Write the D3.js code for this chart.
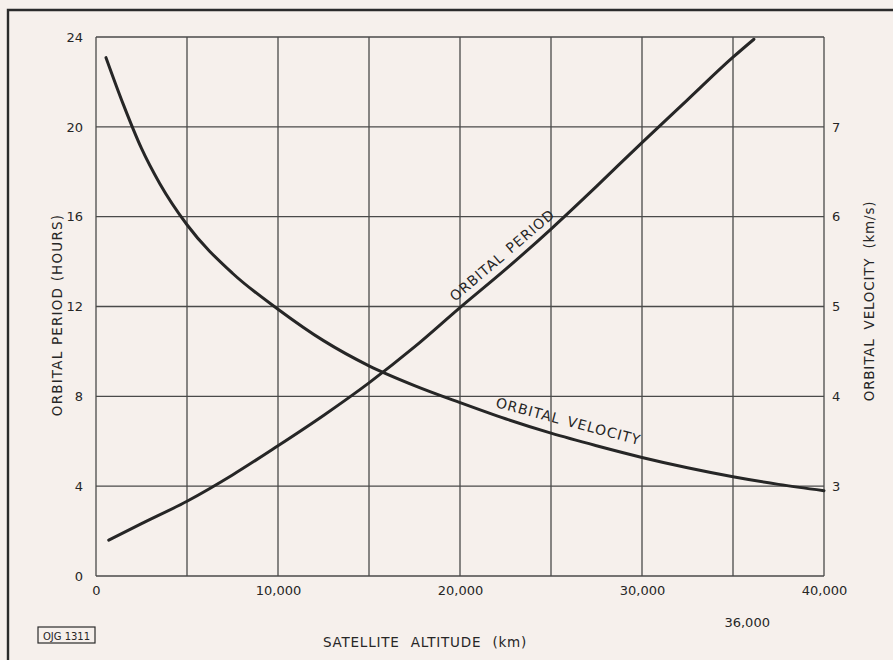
<!DOCTYPE html>
<html>
<head>
<meta charset="utf-8">
<script src="https://cdn.jsdelivr.net/npm/d3@7"></script>
<style>
  html, body { margin: 0; padding: 0; background: #f6f0ec; }
  svg { display: block; }
  text { font-family: "DejaVu Sans", "Liberation Sans", sans-serif; fill: #262626; }
</style>
</head>
<body>
<svg id="chart" width="893" height="660"></svg>
<script>
// Satellite altitude (km) vs orbital period (hours)
const periodAltitude = [700, 2500, 5000, 7500, 10000, 12500, 15000, 17500, 20000, 22500, 25000, 27500, 30000, 32500, 35000, 36150];
const periodHours    = [1.6, 2.33, 3.33, 4.5, 5.8, 7.15, 8.6, 10.2, 11.95, 13.65, 15.45, 17.35, 19.3, 21.2, 23.1, 23.9];

// Satellite altitude (km) vs orbital velocity (km/s)
const velocityAltitude = [550, 1500, 2500, 3500, 5000, 7500, 10000, 12500, 15000, 17500, 20000, 22500, 25000, 27500, 30000, 32500, 35000, 37500, 40000];
const velocityKms      = [7.77, 7.25, 6.76, 6.37, 5.91, 5.37, 4.97, 4.62, 4.34, 4.12, 3.93, 3.75, 3.59, 3.45, 3.32, 3.205, 3.105, 3.02, 2.95];

// Axis ticks
const altitudeTicks = [0, 5000, 10000, 15000, 20000, 25000, 30000, 35000, 40000];
const altitudeTickLabels = ["0", "", "10,000", "", "20,000", "", "30,000", "", "40,000"];
const periodTicks = [0, 4, 8, 12, 16, 20, 24];
const velocityTicks = [3, 4, 5, 6, 7];

const svg = d3.select("#chart");
const ink = "#2b2b2b";
const font = "DejaVu Sans, sans-serif";

const x = d3.scaleLinear().domain([0, 40000]).range([96, 824]);
const yP = d3.scaleLinear().domain([0, 24]).range([576, 37]);
const yV = d3.scaleLinear().domain([2, 8]).range([576, 37]);

// Outer frame (top and left edges)
svg.append("path")
  .attr("d", "M8,660 L8,10 L893,10")
  .attr("fill", "none").attr("stroke", ink).attr("stroke-width", 2.4);

// Grid
const grid = svg.append("g").attr("stroke", "#4a4a4a").attr("stroke-width", 1.3);
grid.selectAll("line.v").data(altitudeTicks).join("line")
  .attr("x1", d => x(d)).attr("x2", d => x(d))
  .attr("y1", yP(24)).attr("y2", yP(0));
grid.selectAll("line.h").data(periodTicks).join("line")
  .attr("x1", x(0)).attr("x2", x(40000))
  .attr("y1", d => yP(d)).attr("y2", d => yP(d));

// Bottom axis labels
const bottom = d3.axisBottom(x).tickValues(altitudeTicks)
  .tickFormat((d, i) => altitudeTickLabels[i]).tickSize(0).tickPadding(10);
const gb = svg.append("g").attr("transform", `translate(0,${yP(0)})`).call(bottom);
gb.select(".domain").remove();
gb.selectAll("text").attr("font-size", 13).attr("fill", "#262626").attr("font-family", font);

// Left axis labels
const left = d3.axisLeft(yP).tickValues(periodTicks).tickSize(0).tickPadding(10);
const gl = svg.append("g").attr("transform", `translate(${x(0) - 3},0)`).call(left);
gl.select(".domain").remove();
gl.selectAll("text").attr("font-size", 13).attr("fill", "#262626").attr("font-family", font);

// Right axis labels
const right = d3.axisRight(yV).tickValues(velocityTicks).tickFormat(d3.format("d"))
  .tickSize(0).tickPadding(8);
const gr = svg.append("g").attr("transform", `translate(${x(40000)},0)`).call(right);
gr.select(".domain").remove();
gr.selectAll("text").attr("font-size", 13).attr("fill", "#262626").attr("font-family", font);

// Geostationary altitude marker
svg.append("text").attr("x", x(36000) - 4).attr("y", 627)
  .attr("text-anchor", "middle").attr("font-size", 13).text("36,000");

// Axis titles
svg.append("text").attr("x", 425).attr("y", 647)
  .attr("text-anchor", "middle").attr("font-size", 13.5)
  .attr("letter-spacing", 0.8).attr("word-spacing", 6)
  .text("SATELLITE ALTITUDE (km)");
svg.append("text")
  .attr("transform", "translate(62,315) rotate(-90)")
  .attr("text-anchor", "middle").attr("font-size", 13.5).attr("letter-spacing", 1.2)
  .text("ORBITAL PERIOD (HOURS)");
svg.append("text")
  .attr("transform", "translate(874,301) rotate(-90)")
  .attr("text-anchor", "middle").attr("font-size", 13.5)
  .attr("letter-spacing", 0.8).attr("word-spacing", 4)
  .text("ORBITAL VELOCITY (km/s)");

// Drawing reference tag
svg.append("rect").attr("x", 38).attr("y", 627).attr("width", 57).attr("height", 16)
  .attr("fill", "none").attr("stroke", ink).attr("stroke-width", 1.2);
svg.append("text").attr("x", 66.5).attr("y", 639.5).attr("text-anchor", "middle")
  .attr("font-size", 10).text("OJG 1311");

// Curves
const periodLine = d3.line()
  .x((d, i) => x(periodAltitude[i])).y(d => yP(d))
  .curve(d3.curveMonotoneX);
const velocityLine = d3.line()
  .x((d, i) => x(velocityAltitude[i])).y(d => yV(d))
  .curve(d3.curveMonotoneX);

svg.append("path").attr("d", periodLine(periodHours))
  .attr("fill", "none").attr("stroke", "#262626").attr("stroke-width", 3)
  .attr("stroke-linecap", "round");
svg.append("path").attr("d", velocityLine(velocityKms))
  .attr("fill", "none").attr("stroke", "#262626").attr("stroke-width", 3)
  .attr("stroke-linecap", "round");

// Curve captions
svg.append("text")
  .attr("transform", "translate(455,302) rotate(-40.5)")
  .attr("font-size", 14).attr("letter-spacing", 1).attr("word-spacing", 2)
  .text("ORBITAL PERIOD");
svg.append("text")
  .attr("transform", "translate(495,407) rotate(14.8)")
  .attr("font-size", 14).attr("letter-spacing", 1).attr("word-spacing", 2)
  .text("ORBITAL VELOCITY");
</script>
</body>
</html>
